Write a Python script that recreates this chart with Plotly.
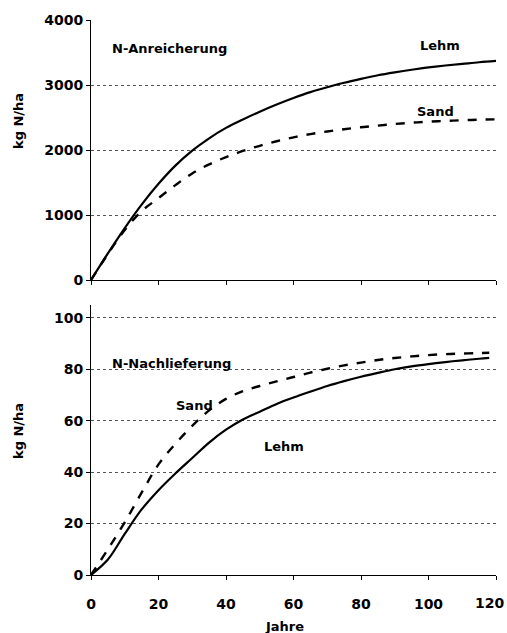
import plotly.graph_objects as go
from plotly.subplots import make_subplots

# Top panel: N-Anreicherung (kg N/ha)
years_top = [0, 5, 10, 15, 20, 25, 30, 35, 40, 45, 50, 55, 60, 65, 70, 75, 80, 85, 90, 95, 100, 105, 110, 115, 120]
lehm_top = [0, 410, 800, 1160, 1480, 1760, 1990, 2180, 2340, 2470, 2590, 2700, 2800, 2890, 2965, 3035, 3095, 3150, 3195, 3235, 3270, 3300, 3325, 3350, 3370]
sand_top = [0, 400, 770, 1060, 1260, 1460, 1640, 1780, 1890, 1985, 2065, 2135, 2195, 2245, 2285, 2320, 2350, 2375, 2400, 2420, 2435, 2448, 2458, 2466, 2472]

# Bottom panel: N-Nachlieferung (kg N/ha)
years_bot = [0, 5, 10, 15, 20, 25, 30, 35, 40, 45, 50, 55, 60, 65, 70, 75, 80, 85, 90, 95, 100, 105, 110, 115, 118]
lehm_bot = [0, 6, 16, 25.5, 33, 39.5, 45.5, 51.5, 56.5, 60.5, 63.5, 66.5, 69, 71.3, 73.5, 75.4, 77.1, 78.6, 80, 81.1, 82, 82.8, 83.5, 84.1, 84.4]
sand_bot = [0, 10, 20.5, 32, 43, 51, 58, 64, 68.5, 71.5, 73.5, 75.3, 77, 78.7, 80.2, 81.5, 82.6, 83.6, 84.4, 85, 85.5, 85.9, 86.1, 86.3, 86.4]

x_ticks = [0, 20, 40, 60, 80, 100, 120]
x_tick_labels = ["0", "20", "40", "60", "80", "100", "120"]
top_y_ticks = [0, 1000, 2000, 3000, 4000]
bot_y_ticks = [0, 20, 40, 60, 80, 100]

FONT = "DejaVu Sans"

fig = make_subplots(rows=2, cols=1, shared_xaxes=False, vertical_spacing=0.0)

fig.add_trace(go.Scatter(x=years_top, y=lehm_top, mode="lines", line=dict(color="black", width=2.2, shape="spline")), row=1, col=1)
fig.add_trace(go.Scatter(x=years_top, y=sand_top, mode="lines", line=dict(color="black", width=2.4, dash="dash", shape="spline")), row=1, col=1)
fig.add_trace(go.Scatter(x=years_bot, y=lehm_bot, mode="lines", line=dict(color="black", width=2.2, shape="spline")), row=2, col=1)
fig.add_trace(go.Scatter(x=years_bot, y=sand_bot, mode="lines", line=dict(color="black", width=2.4, dash="dash", shape="spline")), row=2, col=1)

axis_common = dict(showline=True, linecolor="black", linewidth=1, ticks="outside", ticklen=4,
                   tickcolor="black", tickfont=dict(family=FONT, size=14, color="black", weight="bold"),
                   zeroline=False, mirror=False, automargin=False)

# last tick label (120) sits at the page edge: draw it as a right-anchored text instead
shown_labels = x_tick_labels[:-1] + [""]
fig.update_xaxes(range=[0, 120], tickvals=x_ticks, ticktext=shown_labels, showgrid=False, **axis_common)
fig.update_xaxes(showticklabels=False, row=1, col=1)
fig.update_xaxes(ticklabelstandoff=12, row=2, col=1)

fig.update_yaxes(showgrid=True, gridcolor="#555", griddash="dot", gridwidth=1, **axis_common)
fig.update_yaxes(range=[0, 4000], tickvals=top_y_ticks, domain=[0.5315, 1.0], row=1, col=1)
fig.update_yaxes(range=[0, 105], tickvals=bot_y_ticks, domain=[0.0, 0.4865], row=2, col=1)

ann_font = dict(family=FONT, size=13, color="black", weight="bold")
tick_font = dict(family=FONT, size=14, color="black", weight="bold")
annotations = [
    dict(text="N-Anreicherung", x=5.6, y=3554, xref="x", yref="y", xanchor="left", showarrow=False),
    dict(text="Lehm", x=103.4, y=3615, xref="x", yref="y", showarrow=False),
    dict(text="Sand", x=102, y=2585, xref="x", yref="y", showarrow=False),
    dict(text="N-Nachlieferung", x=5.6, y=82.4, xref="x2", yref="y2", xanchor="left", showarrow=False),
    dict(text="Sand", x=30.8, y=66.1, xref="x2", yref="y2", showarrow=False),
    dict(text="Lehm", x=57.2, y=49.8, xref="x2", yref="y2", showarrow=False),
    dict(text="kg N/ha", x=18, y=121, xref="paper", yref="paper", showarrow=False, textangle=-90),
    dict(text="kg N/ha", x=18, y=431, xref="paper", yref="paper", showarrow=False, textangle=-90),
    dict(text="Jahre", x=284, y=626, xref="paper", yref="paper", showarrow=False),
    dict(text=x_tick_labels[-1], x=506, y=603, xref="paper", yref="paper", showarrow=False,
         xanchor="right", font=tick_font),
]
W, H = 507, 633
L, R, T, B = 91, 11, 20, 58
for a in annotations:
    a.setdefault("font", ann_font)
    if a["xref"] == "paper":
        a["x"] = (a["x"] - L) / (W - L - R)
        a["y"] = 1 - (a["y"] - T) / (H - T - B)
        a.setdefault("xanchor", "center")
        a["yanchor"] = "middle"
fig.update_layout(annotations=annotations)

fig.update_layout(width=W, height=H, margin=dict(l=L, r=R, t=T, b=B),
                  showlegend=False, plot_bgcolor="white", paper_bgcolor="white")

# remove the browser's default page margin so the figure fills the window exactly
fig.write_html("out.html", config={"displayModeBar": False},
               post_script="document.body.style.margin='0';document.body.style.overflow='hidden';")
